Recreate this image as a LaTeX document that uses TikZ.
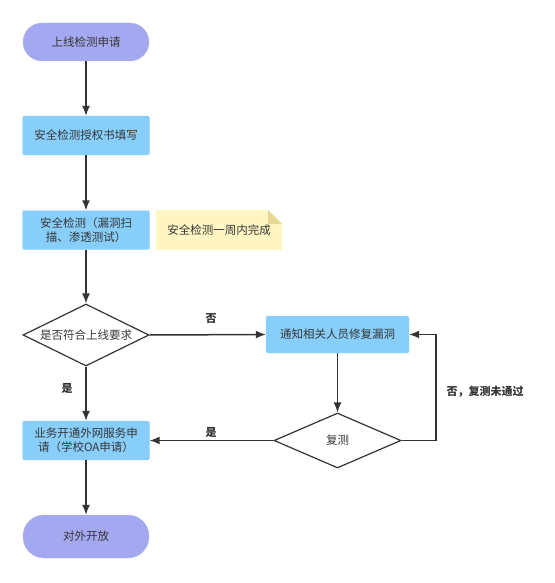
\documentclass[tikz,border=0pt]{standalone}
\usepackage{fontspec}
\setmainfont{Noto Sans CJK SC}
\usetikzlibrary{shapes.geometric,arrows.meta}
\definecolor{termfill}{RGB}{163,168,240}
\definecolor{stepfill}{RGB}{135,206,250}
\definecolor{notefill}{RGB}{255,246,196}
\definecolor{notefold}{RGB}{232,216,150}
\definecolor{linegray}{RGB}{51,51,51}
\definecolor{textgray}{RGB}{55,55,55}

\tikzset{
    terminal/.style={rectangle, rounded corners=19pt, fill=termfill, draw=termfill!80!white,
        minimum width=126pt, minimum height=38pt, text=textgray, font=\fontsize{11.5}{14}\selectfont},
    stepbox/.style={rectangle, rounded corners=2pt, fill=stepfill, draw=stepfill!80!white,
        minimum width=127pt, minimum height=39pt, align=center, text=textgray,
        font=\fontsize{11.5}{14}\selectfont},
    decision/.style={diamond, draw=linegray, line width=1.2pt, fill=white, inner sep=0pt, aspect=2,
        text=textgray, font=\fontsize{11.5}{14}\selectfont},
    flow/.style={-{Latex[length=10pt,width=8pt]}, draw=linegray, line width=1.5pt},
    flowlabel/.style={text=linegray, font=\bfseries\fontsize{11}{13}\selectfont}
}

\begin{document}
\begin{tikzpicture}[x=1pt,y=-1pt]
    \useasboundingbox (0,0) rectangle (554,583);
    % main column
    \node[terminal] (start) at (86,42) {上线检测申请};
    \node[stepbox] (auth) at (86,135.5) {安全检测授权书填写};
    \node[stepbox] (scan) at (86,230) {安全检测（漏洞扫\\描、渗透测试）};
    \node[decision, minimum width=126pt, minimum height=62pt] (check) at (86,335) {是否符合上线要求};
    \node[stepbox] (apply) at (86,440.5) {业务开通外网服务申\\请（学校OA申请）};
    \node[terminal, minimum height=43pt, rounded corners=21pt] (open) at (86,536.5) {对外开放};
    % note beside the scan step
    \fill[notefill] (156,210) -- (268,210) -- (282,224) -- (282,250) -- (156,250) -- cycle;
    \fill[notefold] (268,210) -- (282,224) -- (268,224) -- cycle;
    \node[text=textgray, font=\fontsize{11.5}{14}\selectfont] (note) at (219,230) {安全检测一周内完成};
    % repair loop
    \node[stepbox, minimum width=143pt, minimum height=37pt] (fix) at (337.5,334.5) {通知相关人员修复漏洞};
    \node[decision, minimum width=127pt, minimum height=55pt] (recheck) at (337.5,440.5) {复测};
    \coordinate (loop) at (436,440.5);
    % connectors
    \draw[flow] (start) -- (auth);
    \draw[flow] (auth) -- (scan);
    \draw[flow] (scan) -- (check);
    \draw[flow] (check) -- (apply);
    \draw[flow] (apply) -- (open);
    \draw[flow] (check.east) -- (fix.west);
    \draw[flow] (fix) -- (recheck);
    \draw[flow] (recheck.west) -- (apply.east);
    \draw[flow] (recheck.east) -- (loop) |- (fix.east);
    % labels
    \node[flowlabel] (lno) at (211,319) {否};
    \node[flowlabel] (lyes) at (67,388) {是};
    \node[flowlabel] (lpass) at (211,432) {是};
    \node[flowlabel] (lfail) at (485,392) {否，复测未通过};
\end{tikzpicture}
\end{document}
